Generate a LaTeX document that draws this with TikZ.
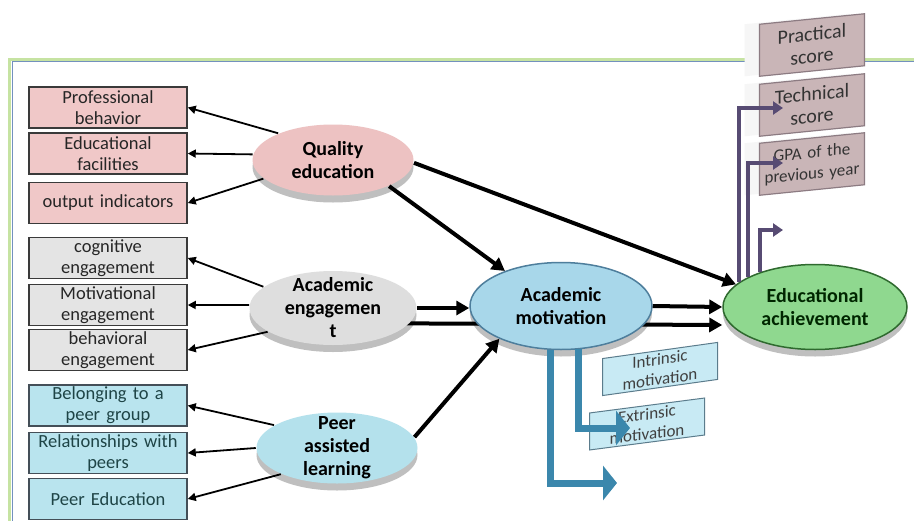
\documentclass[tikz,border=0pt]{standalone}
\usepackage{fontspec}
\setmainfont{Carlito}[WordSpace=0.6]
\usetikzlibrary{shapes.geometric,arrows.meta,shadows,backgrounds}

\definecolor{pinkfill}{HTML}{F0C8C8}
\definecolor{grayfill}{HTML}{E4E4E4}
\definecolor{cyanfill}{HTML}{B9E4EE}
\definecolor{qualfill}{HTML}{EDC2C2}
\definecolor{engfill}{HTML}{DEDEDE}
\definecolor{peerfill}{HTML}{B4E1EC}
\definecolor{motfill}{HTML}{A8D7EA}
\definecolor{motline}{HTML}{4E7E9C}
\definecolor{achfill}{HTML}{8FD88F}
\definecolor{achline}{HTML}{2F6A2F}
\definecolor{scorefill}{HTML}{C9B5B7}
\definecolor{scoreline}{HTML}{8C7B82}
\definecolor{kindfill}{HTML}{C8EAF4}
\definecolor{kindline}{HTML}{5B7C8C}
\definecolor{boxline}{HTML}{3A3A3A}
\definecolor{tealtext}{HTML}{1E4446}
\definecolor{purpleline}{HTML}{574B73}
\definecolor{blueline}{HTML}{3B87AC}
\definecolor{framegreen}{HTML}{C6E3A2}
\definecolor{frameblue}{HTML}{7391BE}

\tikzstyle{leftbox} = [rectangle, draw=boxline, line width=1.5pt, text width=156pt, align=center, inner sep=1pt, minimum height=41pt, font=\fontsize{18.5}{21}\selectfont, text=black!85]
\tikzstyle{pinkbox} = [leftbox, fill=pinkfill]
\tikzstyle{graybox} = [leftbox, fill=grayfill]
\tikzstyle{cyanbox} = [leftbox, fill=cyanfill, draw=black!75!cyan, text=tealtext]
\tikzstyle{factor} = [ellipse, minimum width=161pt, minimum height=71pt, inner sep=-8pt, align=center, line width=1.5pt, font=\fontsize{20}{23}\selectfont\bfseries, drop shadow={shadow xshift=0pt, shadow yshift=-7pt, fill=black, opacity=0.25}]
\tikzstyle{scorebox} = [rectangle, draw=scoreline, line width=1.2pt, fill=scorefill, yslant=0.1, minimum width=105pt, minimum height=52pt, text width=104pt, align=center, inner sep=0pt, font=\fontsize{20}{22}\selectfont, text=black!80, general shadow={shadow xshift=-15pt, fill=gray!7}]
\tikzstyle{kindbox} = [rectangle, draw=kindline, line width=1pt, fill=kindfill, minimum width=115pt, minimum height=37pt, text width=115pt, align=center, inner sep=0pt, font=\fontsize{17}{20}\selectfont, text=black!75]
\tikzstyle{arrow} = [draw, line width=1.8pt, -{Triangle[length=8pt,width=8pt]}]
\tikzstyle{bigarrow} = [draw, line width=4pt, -{Triangle[length=13pt,width=14pt]}]
\tikzstyle{purplearrow} = [draw=purpleline, line width=4pt, -{Triangle[length=10pt,width=13pt]}]
\tikzstyle{bluearrow} = [draw=blueline, line width=7pt, -{Triangle[length=14pt,width=34pt]}]

\begin{document}
\begin{tikzpicture}[x=1pt,y=-1pt]
\useasboundingbox (0,0) rectangle (914,520);
\clip (0,0) rectangle (914,520);
\begin{scope}[on background layer]
\fill[white] (0,0) rectangle (914,520);
\draw[framegreen, line width=3pt] (9,59) rectangle (940,560);
\draw[frameblue, line width=1pt] (12,61) rectangle (940,560);
\end{scope}

% left indicators
\node[pinkbox] (behavior) at (108,107.5) {Professional\\behavior};
\node[pinkbox] (facilities) at (108,153.5) {Educational\\facilities};
\node[pinkbox] (indicators) at (108,203) {output indicators};
\node[graybox] (cognitive) at (108,258) {cognitive\\engagement};
\node[graybox] (motivational) at (108,305) {Motivational\\engagement};
\node[graybox] (behavioral) at (108,350) {behavioral\\engagement};
\node[cyanbox] (belonging) at (108,405.5) {Belonging to a\\peer group};
\node[cyanbox] (relationships) at (108,453) {Relationships with\\peers};
\node[cyanbox] (peereducation) at (108,499) {Peer Education};

% factors
\node[factor, fill=qualfill] (quality) at (333,160) {Quality\\education};
\node[factor, fill=engfill, minimum width=167pt, minimum height=74pt] (engagement) at (333,308) {Academic\\engagemen\\t};
\node[factor, fill=peerfill] (peer) at (337,448) {Peer\\assisted\\learning};
\node[factor, fill=motfill, draw=motline, minimum width=182pt, minimum height=87pt] (motivation) at (561,306) {Academic\\motivation};
\node[factor, fill=achfill, draw=achline, minimum width=184pt, minimum height=85pt, text=black!85!green] (achievement) at (815,307) {Educational\\achievement};

% scores and kinds of motivation
\node[scorebox] (practical) at (812,45) {Practical\\score};
\node[scorebox] (technical) at (812,105) {Technical\\score};
\node[scorebox, font=\fontsize{17}{21}\selectfont] (gpa) at (812,164) {GPA of the\\previous year};
\node[kindbox, yslant=0.14] (intrinsic) at (660,369) {Intrinsic\\motivation};
\node[kindbox, yslant=0.13] (extrinsic) at (647,424) {Extrinsic\\motivation};

\coordinate (techtip) at (783,108);
\coordinate (gpatip) at (783,163);
\coordinate (emptytip) at (783,230);
\coordinate (lowtip) at (617,483);
\coordinate (extrtip) at (630,428);

\path[arrow] (quality.154) -- (behavior.east);
\path[arrow] (quality.176) -- (facilities.east);
\path[arrow] (quality.195) -- (indicators.east);
\path[arrow] (engagement.163) -- (cognitive.east);
\path[arrow] (engagement.178) -- (motivational.east);
\path[arrow] (engagement.200) -- (behavioral.east);
\path[arrow] (peer.160) -- (belonging.east);
\path[arrow] (peer.west) -- (relationships.east);
\path[arrow] (peer.205) -- (peereducation.east);

\path[bigarrow] (quality.-25) -- (motivation.148);
\path[bigarrow] (quality.-2) -- (achievement.164);
\path[bigarrow] (engagement.east) -- (engagement.east -| motivation.west);
\path[bigarrow] (peer.8) -- (motivation.208);
\path[bigarrow] (motivation.east) -- (achievement.west);
\begin{scope}[on background layer]
\path[bigarrow] ([yshift=-15pt]engagement.center) -- ([yshift=-18pt]achievement.west);
\end{scope}

\path[purplearrow] (achievement.162) |- (techtip);
\path[purplearrow] (achievement.156) |- (gpatip);
\path[purplearrow] (achievement.148) |- (emptytip);
\path[bluearrow] (motivation.256) |- (lowtip);
\path[bluearrow] (motivation.292) |- (extrtip);
\end{tikzpicture}
\end{document}
